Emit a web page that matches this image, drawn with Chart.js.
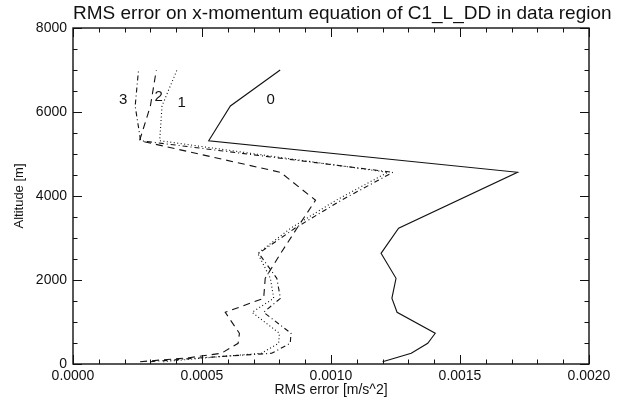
<!DOCTYPE html>
<html>
<head>
<meta charset="utf-8">
<title>RMS error on x-momentum equation</title>
<script src="https://cdn.jsdelivr.net/npm/chart.js@4/dist/chart.umd.min.js"></script>
<style>
  html, body { margin: 0; padding: 0; background: #fff; }
  #chart { display: block; }
</style>
</head>
<body>
<canvas id="chart" width="619" height="404"></canvas>
<script>
// Altitude levels [m] shared by all curves (bottom to top)
const altitudes = [55, 150, 255, 493, 731, 1231, 1564, 2040, 2635, 3231, 3900, 4564, 5317, 6143, 7000];

// RMS error [m/s^2] per curve (null = no vertex at that level)
const rms0 = [0.00120, null, 0.001311, 0.001375, 0.001404, 0.001256, 0.001236, 0.001252, 0.001194, 0.001262, null, 0.001723, 0.000526, 0.000610, 0.000803];
const rms1 = [0.00035, 0.00052, 0.000730, 0.000797, 0.000800, 0.000694, 0.000778, 0.000765, 0.000716, 0.000843, 0.001020, 0.001220, 0.000336, 0.000345, 0.000403];
const rms2 = [0.00026, 0.00045, 0.000575, 0.000640, 0.000645, 0.000590, 0.000739, 0.000745, 0.000805, 0.000868, 0.000940, 0.000804, 0.000258, 0.000300, 0.000323];
const rms3 = [0.00030, 0.00050, 0.000770, 0.000842, 0.000845, 0.000739, 0.000804, 0.000790, 0.000720, 0.000860, 0.001040, 0.001240, 0.000262, 0.000241, 0.000254];

// curve labels and where they sit (data coordinates)
const curveNames = ["0", "1", "2", "3"];
const curveLabelX = [0.000766, 0.000421, 0.000332, 0.000194];
const curveLabelY = [6286, 6207, 6365, 6286];

// axis ticks
const xTicks = [0, 0.0005, 0.0010, 0.0015, 0.0020];
const yTicks = [0, 2000, 4000, 6000, 8000];

const titleText = "RMS error on x-momentum equation of C1_L_DD in data region";
const ink = "#111";

function toPoints(values) {
    return values.map((v, i) => ({ x: v, y: altitudes[i] }));
}

const dashes = [[], [1, 2.5], [7, 5], [5, 3, 1, 3]];
const series = [rms0, rms1, rms2, rms3];

const datasets = series.map((values, i) => ({
    label: curveNames[i],
    data: toPoints(values),
    borderColor: ink,
    borderWidth: 1.1,
    borderDash: dashes[i],
    pointRadius: 0,
    fill: false,
    spanGaps: true,
    tension: 0,
}));

// draws the box, inward IDL style ticks, curve labels and the title
const decorPlugin = {
    id: "decor",
    afterDraw(chart) {
        const ctx = chart.ctx;
        const area = chart.chartArea;
        const xs = chart.scales.x;
        const ys = chart.scales.y;
        ctx.save();
        ctx.strokeStyle = ink;
        ctx.lineWidth = 1.4;
        ctx.strokeRect(area.left, area.top, area.right - area.left, area.bottom - area.top);

        ctx.lineWidth = 1;
        ctx.beginPath();
        for (let i = 0; i <= 20; i++) {
            const px = Math.round(xs.getPixelForValue(i * 0.0001)) + 0.5;
            const len = i % 5 === 0 ? 9 : 4.5;
            ctx.moveTo(px, area.bottom);
            ctx.lineTo(px, area.bottom - len);
            ctx.moveTo(px, area.top);
            ctx.lineTo(px, area.top + len);
        }
        for (let i = 0; i <= 16; i++) {
            const py = Math.round(ys.getPixelForValue(i * 500)) + 0.5;
            const len = i % 4 === 0 ? 9 : 4.5;
            ctx.moveTo(area.left, py);
            ctx.lineTo(area.left + len, py);
            ctx.moveTo(area.right, py);
            ctx.lineTo(area.right - len, py);
        }
        ctx.stroke();

        ctx.fillStyle = ink;
        ctx.font = "15px 'Liberation Sans', Arial, sans-serif";
        ctx.textAlign = "center";
        ctx.textBaseline = "middle";
        curveNames.forEach((name, i) => {
            ctx.fillText(name, xs.getPixelForValue(curveLabelX[i]), ys.getPixelForValue(curveLabelY[i]));
        });

        ctx.font = "19px 'Liberation Sans', Arial, sans-serif";
        ctx.textAlign = "left";
        ctx.textBaseline = "alphabetic";
        ctx.fillText(titleText, 73, 19);
        ctx.restore();
    },
};

const tickFont = { family: "'Liberation Sans', Arial, sans-serif", size: 14 };

new Chart(document.getElementById("chart"), {
    type: "line",
    data: { datasets: datasets },
    options: {
        responsive: false,
        animation: false,
        layout: { padding: { left: 0, right: 30, top: 28, bottom: 0 } },
        plugins: {
            legend: { display: false },
            tooltip: { enabled: false },
            title: { display: false },
        },
        scales: {
            x: {
                type: "linear",
                min: 0,
                max: 0.002,
                afterBuildTicks: (scale) => { scale.ticks = xTicks.map((v) => ({ value: v })); },
                afterFit: (scale) => { scale.height = 40; },
                grid: { display: false, drawTicks: false },
                border: { display: false },
                ticks: {
                    color: ink,
                    font: tickFont,
                    padding: 4,
                    maxRotation: 0,
                    callback: (v) => Number(v).toFixed(4),
                },
                title: {
                    display: true,
                    text: "RMS error [m/s^2]",
                    color: ink,
                    font: { family: tickFont.family, size: 14 },
                    padding: { top: 0, bottom: 5 },
                },
            },
            y: {
                type: "linear",
                min: 0,
                max: 8000,
                afterBuildTicks: (scale) => { scale.ticks = yTicks.map((v) => ({ value: v })); },
                afterFit: (scale) => { scale.width = 73; },
                grid: { display: false, drawTicks: false },
                border: { display: false },
                ticks: {
                    color: ink,
                    font: tickFont,
                    padding: 6,
                    callback: (v) => String(v),
                },
                title: {
                    display: true,
                    text: "Altitude [m]",
                    color: ink,
                    font: { family: tickFont.family, size: 13 },
                    padding: { top: 12, bottom: 0 },
                },
            },
        },
    },
    plugins: [decorPlugin],
});
</script>
</body>
</html>
